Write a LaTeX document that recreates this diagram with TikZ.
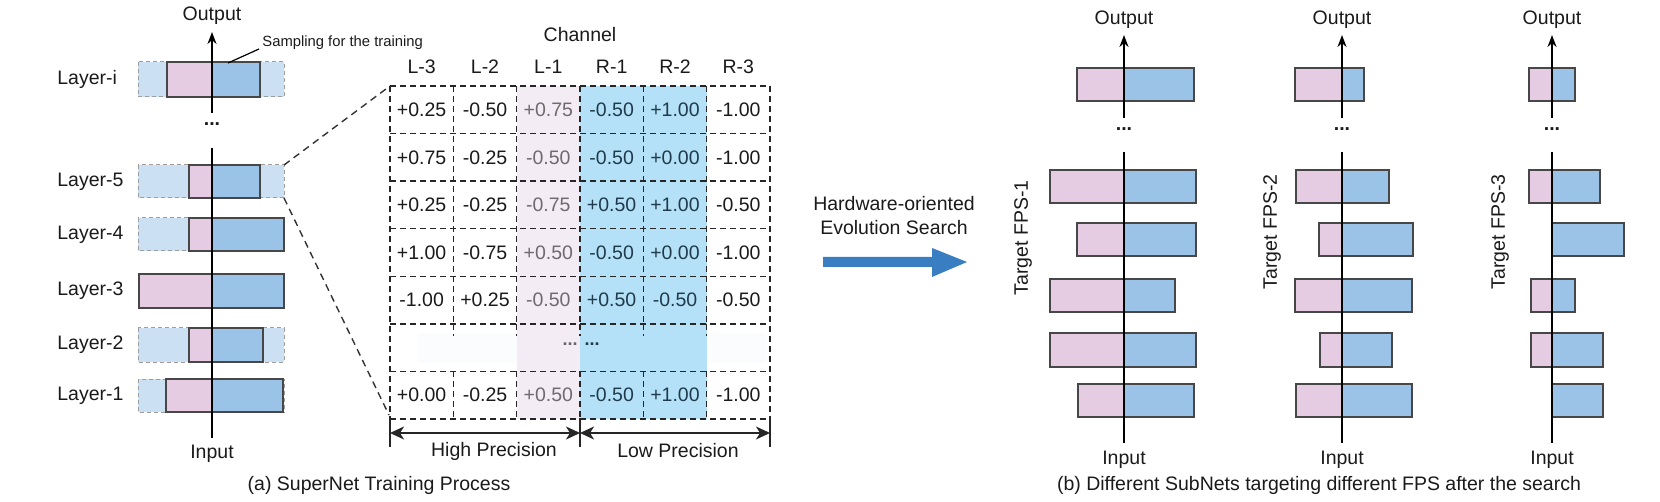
\documentclass[tikz,border=0pt]{standalone}
\usepackage{fontspec}
\setmainfont{Liberation Sans}
\usetikzlibrary{arrows.meta}
\definecolor{pk}{HTML}{E6CCE3}
\definecolor{bl}{HTML}{9AC3E7}
\definecolor{bgb}{HTML}{CCE0F3}
\definecolor{colpk}{HTML}{F4ECF5}
\definecolor{colbl}{HTML}{B4E1F7}
\definecolor{faint}{HTML}{FAFCFE}
\definecolor{bigarrow}{HTML}{3A7EC2}
\definecolor{txt}{HTML}{1A1A1A}
\definecolor{cc1}{HTML}{1A1A1A}
\definecolor{cc2}{HTML}{1A1A1A}
\definecolor{cc3}{HTML}{6E6A6E}
\definecolor{cc4}{HTML}{1F3B4B}
\definecolor{cc5}{HTML}{1F3B4B}
\definecolor{cc6}{HTML}{1A1A1A}
\tikzset{
  barline/.style={draw=black!72, line width=0.75pt},
  bgline/.style={draw=black!38, line width=0.5pt, dash pattern=on 2pt off 1.5pt},
  gridline/.style={draw=black!85, line width=0.7pt, dash pattern=on 3pt off 2pt},
  zoomline/.style={draw=black!80, line width=0.7pt, dash pattern=on 3.5pt off 2.5pt},
  axisline/.style={draw=black, line width=1pt},
  axistip/.style={-{Stealth[length=6pt,width=4.5pt]}},
  prectip/.style={{Stealth[length=7pt,width=6.5pt,inset=2pt]}-{Stealth[length=7pt,width=6.5pt,inset=2pt]}, line width=0.8pt, draw=black!85},
}
\newcommand\hbarrow[5]{% axis, pinkleft, blueright, ytop, ybot
  \fill[pk] (#2,#4) rectangle (#1,#5);
  \fill[bl] (#1,#4) rectangle (#3,#5);
  \draw[barline] (#2,#4) rectangle (#3,#5);}
\newcommand\tabrow[2]{\foreach \v [count=\c] in {#2} {\node[text=cc\c] (cell-#1-\c) at ({390+63.33*(\c-0.5)},{86+47.57*(#1-0.5)}) {\v};}}
\begin{document}
\begin{tikzpicture}[x=0.5pt,y=-0.5pt, every node/.style={font=\fontsize{9.75}{11.5}\selectfont, inner sep=0pt, text=txt}]
\useasboundingbox (0,0) rectangle (1660,502);

% ---------- (a) left SuperNet ----------
\foreach \lab/\yt/\yb/\pl/\br in {i/62/97/167/260, 5/165/198/189/260, 4/218/251/189/284, 3/274/308/139/284, 2/328/362/189/263, 1/379/412/166/283}{
  \fill[bgb] (138,\yt) rectangle (284,\yb);
  \draw[bgline] (138,\yt) rectangle (284,\yb);
  \hbarrow{212}{\pl}{\br}{\yt}{\yb}
  \pgfmathsetmacro\yc{(\yt+\yb)/2}
  \node[anchor=west] (layer-\lab) at (57,\yc) {Layer-\lab};
}
\node (outA) at (212,16) {Output};
\node (inA) at (212,454) {Input};
\node (dotsA) at (212,124) {\textbf{...}};
\coordinate (axAtop) at (212,113);
\coordinate (axAtip) at (212,32);
\coordinate (axAlow) at (212,148);
\coordinate (axAbot) at (212,438);
\draw[axisline,axistip] (axAtop) -- (axAtip);
\draw[axisline] (axAlow) -- (axAbot);

\node[anchor=west, font=\fontsize{7.4}{9}\selectfont] (samp) at (262,43) {Sampling for the training};
\coordinate (sampend) at (228,63);
\draw[black, line width=0.6pt] (samp.west) ++(-3,6) -- (sampend);

% ---------- table ----------
\fill[colpk] (517,86) rectangle (580,419);
\fill[colbl] (580,86) rectangle (707,419);
\fill[faint] (418,333) rectangle (517,363);
\fill[faint] (707,333) rectangle (766,363);
\foreach \y in {86,133.57,181.14,228.71,276.29,323.86,371.43,419}{
  \draw[gridline] (390,\y) -- (770,\y);
}
\draw[gridline] (390,86) -- (390,419);
\draw[gridline] (770,86) -- (770,419);
\foreach \x in {453.33,516.67,580,643.33,706.67}{
  \draw[gridline] (\x,86) -- (\x,323.86);
  \draw[gridline] (\x,323.86) -- (\x,336);
  \draw[gridline] (\x,371.43) -- (\x,419);
}
\node (channel) at (580,35) {Channel};
\foreach \h [count=\c] in {L-3,L-2,L-1,R-1,R-2,R-3}{
  \node (head-\c) at ({390+63.33*(\c-0.5)},67) {\h};
}
\tabrow{1}{+0.25,-0.50,+0.75,-0.50,+1.00,-1.00}
\tabrow{2}{+0.75,-0.25,-0.50,-0.50,+0.00,-1.00}
\tabrow{3}{+0.25,-0.25,-0.75,+0.50,+1.00,-0.50}
\tabrow{4}{+1.00,-0.75,+0.50,-0.50,+0.00,-1.00}
\tabrow{5}{-1.00,+0.25,-0.50,+0.50,-0.50,-0.50}
\tabrow{7}{+0.00,-0.25,+0.50,-0.50,+1.00,-1.00}
\node[font=\fontsize{9}{10}\selectfont\bfseries, text=black!60] (tdots1) at (570,344) {...};
\node[font=\fontsize{9}{10}\selectfont\bfseries, text=cc4] (tdots2) at (592,344) {...};

% zoom lines
\coordinate (z1) at (284,165);
\coordinate (z2) at (390,86);
\coordinate (z3) at (284,198);
\coordinate (z4) at (389,415);
\draw[zoomline] (z1) -- (z2);
\draw[zoomline] (z3) -- (z4);

% precision arrows
\coordinate (pl) at (390,433);
\coordinate (pm) at (580,433);
\coordinate (pr) at (770,433);
\foreach \x in {390,580,770}{\draw[black!85, line width=0.8pt] (\x,418) -- (\x,447);}
\draw[prectip] (pl) -- (pm);
\draw[prectip] (pm) -- (pr);
\node (hp) at (494,451) {High Precision};
\node (lp) at (678,451) {Low Precision};

\node (capA) at (379,485) {(a) SuperNet Training Process};

% ---------- big arrow ----------
\node (hw1) at (894,204) {Hardware-oriented};
\node (hw2) at (894,228) {Evolution Search};
\fill[bigarrow] (823,257) -- (932,257) -- (932,248) -- (967,262) -- (932,277) -- (932,267) -- (823,267) -- cycle;

% ---------- (b) subnets ----------
\foreach \ax/\lst/\lbl/\lx/\ly in {
  1124/{1077/1194/68/101,1050/1196/170/203,1077/1196/223/256,1050/1175/279/312,1050/1196/333/367,1078/1194/384/417}/1/1023/238,
  1342/{1295/1364/68/101,1296/1389/170/203,1319/1413/223/256,1295/1412/279/312,1320/1392/333/367,1296/1412/384/417}/2/1272/232,
  1552/{1529/1575/68/101,1529/1600/170/203,1552/1624/223/256,1531/1575/279/312,1531/1603/333/367,1552/1603/384/417}/3/1500/232}{
  \foreach \p/\b/\yt/\yb in \lst { \hbarrow{\ax}{\p}{\b}{\yt}{\yb} }
  \node (out\lbl) at (\ax,20) {Output};
  \node (in\lbl) at (\ax,460) {Input};
  \node (dots\lbl) at (\ax,129) {\textbf{...}};
  \draw[axisline,axistip] (\ax,118) -- (\ax,35);
  \draw[axisline] (\ax,152) -- (\ax,443);
  \node[rotate=90] (fps\lbl) at (\lx,\ly) {Target FPS-\lbl};
}
\node (capB) at (1319,485) {(b) Different SubNets targeting different FPS after the search};
\end{tikzpicture}
\end{document}
